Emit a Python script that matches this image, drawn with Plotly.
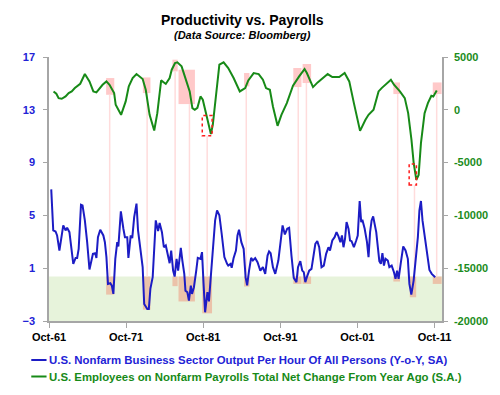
import plotly.graph_objects as go

# ---------------- data ----------------
prod_years = [1962.04, 1962.3, 1962.6, 1962.8, 1963.1, 1963.3, 1963.6, 1963.9, 1964.1, 1964.4, 1964.6, 1964.9,
              1965.2, 1965.4, 1965.6, 1965.9, 1966.1, 1966.4, 1966.7, 1967.0, 1967.45, 1967.75, 1967.9, 1968.1,
              1968.4, 1968.8, 1969.0, 1969.2, 1969.4, 1969.7, 1969.9, 1970.1, 1970.35, 1970.6, 1970.75, 1971.07,
              1971.4, 1971.6, 1971.9, 1972.05, 1972.35, 1972.55, 1972.8, 1973.1, 1973.3, 1973.6, 1973.9, 1974.1,
              1974.5, 1974.7, 1974.9, 1975.2, 1975.45, 1975.6, 1975.9, 1976.1, 1976.4, 1976.65, 1976.9, 1977.25,
              1977.4, 1977.6, 1977.85, 1978.05, 1978.3, 1978.5, 1978.85, 1979.05, 1979.3, 1979.45, 1979.7, 1979.9,
              1980.15, 1980.3, 1980.55, 1980.85, 1981.05, 1981.4, 1981.6, 1981.8, 1982.0, 1982.3, 1982.5, 1982.7,
              1983.0, 1983.3, 1983.55, 1983.85, 1984.15, 1984.5, 1984.85, 1985.0, 1985.3, 1985.45, 1985.7, 1986.0,
              1986.2, 1986.4, 1986.7, 1987.0, 1987.25, 1987.45, 1987.7, 1987.97, 1988.2, 1988.5, 1988.8, 1989.16,
              1989.5, 1989.8, 1990.1, 1990.3, 1990.5, 1990.8, 1991.1, 1991.5, 1992.05, 1992.35, 1992.65, 1992.9,
              1993.2, 1993.5, 1993.85, 1994.05, 1994.35, 1994.6, 1994.8, 1995.0, 1995.2, 1995.5, 1995.8, 1996.0,
              1996.3, 1996.55, 1996.8, 1997.1, 1997.4, 1997.7, 1998.0, 1998.2, 1998.5, 1998.8, 1999.05, 1999.3,
              1999.55, 1999.75, 1999.95, 2000.15, 2000.35, 2000.6, 2000.8, 2001.0, 2001.3, 2001.6, 2001.8, 2002.05,
              2002.25, 2002.4, 2002.7, 2003.0, 2003.2, 2003.4, 2003.6, 2003.8, 2004.0, 2004.2, 2004.6, 2004.8,
              2005.0, 2005.2, 2005.4, 2005.7, 2005.9, 2006.2, 2006.5, 2006.7, 2006.9, 2007.1, 2007.4, 2007.7,
              2008.0, 2008.3, 2008.5, 2008.75, 2009.05, 2009.25, 2009.6, 2009.8, 2010.0, 2010.2, 2010.5, 2010.8,
              2011.1, 2011.4, 2011.6, 2011.85]
prod_values = [6.97, 3.86, 3.78, 3.48, 2.34, 3.23, 4.24, 3.86, 4.06, 3.73, 2.72, 1.33,
               1.78, 1.78, 2.47, 5.81, 5.76, 4.62, 2.97, 0.9, 2.09, 2.14, 1.78, 3.35,
               3.91, 3.48, 2.97, 1.84, -0.19, -0.14, -0.32, -0.95, 1.71, 2.97, 2.65, 5.30,
               3.99, 3.35, 3.35, 1.78, 3.48, 3.28, 4.87, 5.89, 3.86, 2.59, 1.08, -1.71,
               -2.09, -2.09, -0.57, 0.32, 2.59, 4.62, 3.81, 4.42, 3.73, 2.59, 2.72, 1.71,
               1.38, 2.34, 0.82, 0.37, 1.71, 0.82, 2.54, 1.58, 0.57, -0.70, -0.82, -1.46,
               -0.32, -0.95, -0.44, 0.82, 1.78, 1.71, 2.22, -0.19, -2.34, -0.82, -1.51, 0.06,
               2.59, 4.62, 5.38, 5.0, 3.61, 1.84, 1.33, 1.2, 1.33, 1.03, 1.78, 2.34,
               3.48, 3.91, 2.97, 2.47, 0.32, -0.30, 0.82, 1.78, 1.58, 1.76, 1.46, 0.82,
               1.08, 0.57, 1.96, 2.27, 2.14, 1.08, 0.57, 1.58, 4.24, 3.56, 3.99, 4.06,
               1.96, 0.27, -0.06, 1.08, 1.53, 0.82, 0.70, -0.06, 0.32, 0.82, 0.95, 1.84,
               2.85, 3.05, 2.59, 1.08, 1.20, 2.09, 2.59, 2.34, 3.10, 3.35, 3.73, 3.41,
               2.97, 3.48, 2.59, 3.23, 4.49, 3.99, 3.10, 3.05, 2.59, 3.10, 3.48, 6.09,
               4.49, 4.67, 3.99, 2.97, 1.84, 3.73, 4.62, 4.92, 4.24, 3.73, 1.53, 1.33,
               2.14, 1.20, 1.71, 1.58, 1.08, 1.20, 0.70, 0.19, 0.82, 0.19, 1.46, 2.65,
               2.34, 1.71, -0.19, -1.0, 0.06, 1.08, 3.35, 5.38, 6.09, 4.62, 3.35, 2.47,
               0.87, 0.57, 0.44, 0.32]

pay_years = [1962.34, 1962.7, 1963.0, 1963.4, 1963.9, 1964.3, 1964.7, 1965.1, 1965.8, 1966.4, 1967.0, 1967.5,
             1967.9, 1968.3, 1968.7, 1969.2, 1969.6, 1970.2, 1970.4, 1971.1, 1971.7, 1972.1, 1972.6, 1973.1,
             1973.9, 1974.3, 1974.8, 1975.4, 1975.8, 1976.3, 1976.9, 1977.4, 1977.67, 1978.1, 1978.4, 1978.95,
             1979.6, 1980.0, 1980.35, 1980.66, 1981.0, 1981.4, 1981.7, 1982.35, 1982.75, 1983.0, 1983.5, 1983.85,
             1984.4, 1985.0, 1985.7, 1986.5, 1987.2, 1987.6, 1988.3, 1988.95, 1989.5, 1989.9, 1990.4, 1990.8,
             1991.4, 1991.9, 1992.6, 1993.4, 1994.2, 1994.9, 1995.2, 1996.0, 1996.6, 1997.3, 1997.9, 1998.5,
             1999.4, 2000.1, 2000.7, 2001.3, 2002.1, 2002.8, 2003.2, 2003.85, 2004.5, 2004.9, 2005.6, 2006.1,
             2006.5, 2007.27, 2007.9, 2008.34, 2008.77, 2009.06, 2009.4, 2009.7, 2010.0, 2010.47, 2010.9, 2011.35,
             2011.6, 2012.05]
pay_values = [1740, 1520, 1107, 1044, 1265, 1582, 1740, 2056, 2467, 3385, 2688, 1740,
              1645, 2056, 2372, 2688, 2372, 1582, 474, -474, 791, 2214, 3006, 3385,
              2910, 1898, -474, -1961, -316, 2783, 2450, 3006, 3796, 4430, 4493, 4113,
              2690, 1740, 158, 0, 190, 1265, 950, -1107, -2300, -1423, 2056, 4270,
              4493, 3955, 3006, 1740, 2056, 2783, 3480, 3385, 2847, 2056, 1898, 316,
              -1518, -474, 633, 2277, 3164, 3860, 3480, 2150, 2593, 3006, 3385, 3100,
              3100, 3480, 2688, 633, -1993, -949, -474, 0, 1740, 2056, 2530, 2847,
              2372, 1740, 1107, -316, -2847, -5061, -6643, -6170, -3163, -316, 633, 1329,
              1265, 1835]

# highlighted periods: start, end, payroll box top, payroll box bottom, productivity box bottom
hl_start = [1969.16, 1973.93, 1977.76, 1978.55, 1981.63, 1987.05, 1993.44, 1994.65, 2006.42, 2008.55, 2011.53]
hl_end = [1970.22, 1974.91, 1978.44, 1980.68, 1982.90, 1987.75, 1994.50, 1995.75, 2007.28, 2009.38, 2012.68]
hl_pay_top = [3008, 3065, 4745, 3796, None, 3483, 3957, 4337, 2591, None, 2591]
hl_pay_bot = [1423, 1585, 3635, 541, None, 2211, 2154, 2534, 1490, None, 1490]
hl_prod_bot = [-1.0, -2.14, -0.36, -1.52, -2.42, -0.39, -0.19, -0.19, -0.01, -1.2, -0.19]
vline_x = [1969.62, 1974.48, 1978.11, 1979.97, 1982.27, 1987.34, 1994.08, 1995.14, 2006.98, 2009.16, 2012.04]
vline_top = [14.14, 14.27, 15.9, 13.43, 11.03, 14.77, 14.72, 15.03, 14.19, 7.31, 14.19]
trough_start = [1981.63, 2008.47]
trough_end = [1982.91, 2009.41]
trough_top = [-541, -5125]
trough_bot = [-2467, -7118]

band_top = 0.37
tick_vals_x = [1961.75, 1971.75, 1981.75, 1991.75, 2001.75, 2011.75]
tick_text_x = ["Oct-61", "Oct-71", "Oct-81", "Oct-91", "Oct-01", "Oct-11"]
left_ticks = [-3, 1, 5, 9, 13, 17]
right_ticks = [-20000, -15000, -10000, -5000, 0, 5000]
right_tick_text = ["-20000", "-15000", "-10000", "-5000", "0", "5000"]

title = "Productivity vs. Payrolls"
subtitle = "(Data Source: Bloomberg)"
name_prod = "U.S. Nonfarm Business Sector Output Per Hour Of All Persons (Y-o-Y, SA)"
name_pay = "U.S. Employees on Nonfarm Payrolls Total Net Change From Year Ago (S.A.)"

# ---------------- styling ----------------
FONT = "Liberation Sans, Arial, sans-serif"
BLUE = "#1c1cc4"
BLUE_TXT = "#2222d6"
GREEN = "#178a17"
GREEN_TXT = "#1c8c1c"
AXIS = "#a6a6a6"
X0, X1 = 1961.75, 2012.73

# the page body adds an 8px offset; compensate so the plot lands where intended
OFF = 8
W, H = 500 - OFF, 395 - OFF
ML, MR, MT, MB = 49 - OFF, 52, 57 - OFF, 74
PW, PH = W - ML - MR, H - MT - MB


def px_to_paper(xp, yp):
    xp -= OFF
    yp -= OFF
    return (xp - ML) / PW, (H - MB - yp) / PH


fig = go.Figure()
fig.add_trace(go.Scatter(x=prod_years, y=prod_values, mode="lines", name=name_prod,
                         line=dict(color=BLUE, width=2), yaxis="y"))
fig.add_trace(go.Scatter(x=pay_years, y=pay_values, mode="lines", name=name_pay,
                         line=dict(color=GREEN, width=2), yaxis="y2"))

shapes = []
shapes.append(dict(type="rect", xref="x", yref="y", x0=X0, x1=X1, y0=-3, y1=band_top,
                   fillcolor="#e7f3db", line=dict(width=0), layer="below"))
for i in range(len(hl_start)):
    shapes.append(dict(type="rect", xref="x", yref="y", x0=hl_start[i], x1=hl_end[i],
                       y0=hl_prod_bot[i], y1=band_top, fillcolor="#ebc2a9",
                       line=dict(width=0), layer="below"))
    if hl_pay_top[i] is not None:
        shapes.append(dict(type="rect", xref="x", yref="y2", x0=hl_start[i], x1=hl_end[i],
                           y0=hl_pay_bot[i], y1=hl_pay_top[i], fillcolor="#ffc9c9",
                           line=dict(width=0), layer="below"))
for i in range(len(vline_x)):
    shapes.append(dict(type="line", xref="x", yref="y", x0=vline_x[i], x1=vline_x[i],
                       y0=band_top, y1=vline_top[i], line=dict(color="#ffdcdc", width=1.5),
                       layer="below"))
for i in range(len(trough_start)):
    shapes.append(dict(type="rect", xref="x", yref="y2", x0=trough_start[i], x1=trough_end[i],
                       y0=trough_bot[i], y1=trough_top[i], fillcolor="rgba(0,0,0,0)",
                       line=dict(color="#ff1a1a", width=1.5, dash="dot"), layer="above"))

# legend symbols (pixel positions)
for yy, col in [(360, BLUE), (376.5, GREEN)]:
    x0, y0 = px_to_paper(31, yy)
    x1, _ = px_to_paper(46.5, yy)
    shapes.append(dict(type="line", xref="paper", yref="paper", x0=x0, x1=x1,
                       y0=y0, y1=y0, line=dict(color=col, width=2), layer="above"))

annotations = []
cx, _ = px_to_paper(245, 0)
for txt, yy, size in [("<b>" + title + "</b>", 20, 14), ("<b><i>" + subtitle + "</i></b>", 35, 11)]:
    _, py = px_to_paper(0, yy)
    annotations.append(dict(text=txt, x=cx, y=py, xref="paper", yref="paper", showarrow=False,
                            xanchor="center", yanchor="middle",
                            font=dict(family=FONT, size=size, color="#000000")))
for txt, yy, col in [(name_prod, 360, BLUE_TXT), (name_pay, 376.5, GREEN)]:
    px, py = px_to_paper(47, yy)
    annotations.append(dict(text="<b>" + txt + "</b>", x=px, y=py, xref="paper", yref="paper",
                            showarrow=False, xanchor="left", yanchor="middle",
                            font=dict(family=FONT, size=11.4, color=col)))

fig.update_layout(
    width=W, height=H,
    margin=dict(l=ML, r=MR, t=MT, b=MB, pad=0),
    paper_bgcolor="white", plot_bgcolor="white",
    showlegend=False,
    shapes=shapes,
    annotations=annotations,
    font=dict(family=FONT),
    xaxis=dict(range=[X0, X1], tickvals=tick_vals_x, ticktext=tick_text_x,
               showgrid=False, zeroline=False, showline=True, linecolor=AXIS, linewidth=1.5,
               ticks="outside", ticklen=5, tickcolor=AXIS,
               tickfont=dict(family=FONT, size=11, color="#000000", weight="bold")),
    yaxis=dict(range=[-3, 17], tickvals=left_ticks, showgrid=False, zeroline=False,
               showline=True, linecolor=AXIS, linewidth=1.5, ticks="outside", ticklen=4,
               tickcolor=AXIS, tickfont=dict(family=FONT, size=11, color=BLUE_TXT, weight="bold"),
               ticklabelstandoff=6),
    yaxis2=dict(range=[-20000, 5000], tickvals=right_ticks, ticktext=right_tick_text,
                overlaying="y", side="right",
                showgrid=False, zeroline=False, showline=True, linecolor=AXIS, linewidth=1.5,
                ticks="outside", ticklen=4, tickcolor=AXIS,
                tickfont=dict(family=FONT, size=11, color=GREEN_TXT, weight="bold"),
                ticklabelstandoff=4),
)

fig.write_html("out.html")
